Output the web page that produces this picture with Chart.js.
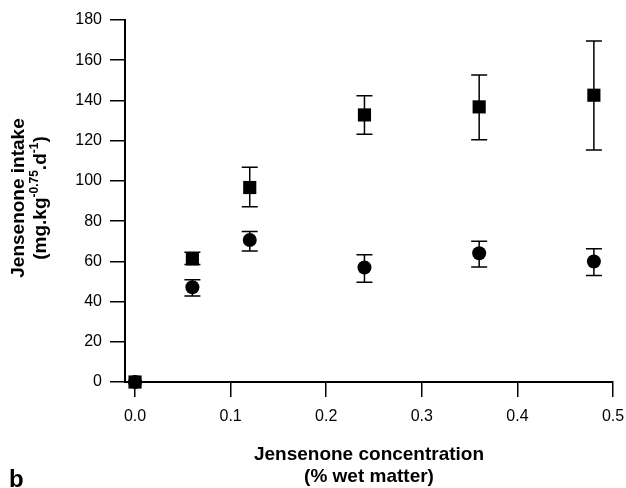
<!DOCTYPE html>
<html>
<head>
<meta charset="utf-8">
<script src="https://cdn.jsdelivr.net/npm/chart.js@4.4.1/dist/chart.umd.min.js"></script>
<style>
  body { margin: 0; background: #fff; }
  #wrap { width: 626px; height: 488px; position: relative; }
</style>
</head>
<body>
<div id="wrap"><canvas id="chart"></canvas></div>
<script>
  // concentration (% wet matter)
  const concentrations = [0, 0.06, 0.12, 0.24, 0.36, 0.48];
  const xTicks = [0, 0.1, 0.2, 0.3, 0.4, 0.5];

  // squares
  const squareMean = [0, 61.2, 96.7, 132.8, 136.8, 142.6];
  const squareLow = [null, 58.4, 87.2, 123.2, 120.4, 115.3];
  const squareHigh = [null, 64.5, 106.8, 142.3, 152.6, 169.6];

  // circles
  const circleMean = [0, 47.1, 70.6, 56.9, 64.0, 59.9];
  const circleLow = [null, 42.8, 65.2, 49.6, 57.2, 52.9];
  const circleHigh = [null, 50.8, 74.8, 63.3, 70.0, 66.3];

  const FONT = "'Liberation Sans', Arial, Helvetica, sans-serif";

  function toPoints(ys) {
    return concentrations.map((x, i) => ({ x: x, y: ys[i] }));
  }

  // vertical error bars with caps, drawn through the scales
  const errorBars = {
    id: 'errorBars',
    beforeDatasetsDraw(chart) {
      const ctx = chart.ctx;
      const xs = chart.scales.x, ys = chart.scales.y;
      const sets = [[squareLow, squareHigh], [circleLow, circleHigh]];
      ctx.save();
      ctx.strokeStyle = '#000';
      ctx.lineWidth = 1.5;
      sets.forEach(([lo, hi]) => {
        concentrations.forEach((c, i) => {
          if (lo[i] == null) return;
          const px = xs.getPixelForValue(c);
          const top = ys.getPixelForValue(hi[i]);
          const bot = ys.getPixelForValue(lo[i]);
          ctx.beginPath();
          ctx.moveTo(px, top); ctx.lineTo(px, bot);
          ctx.moveTo(px - 8, top); ctx.lineTo(px + 8, top);
          ctx.moveTo(px - 8, bot); ctx.lineTo(px + 8, bot);
          ctx.stroke();
        });
      });
      ctx.restore();
    }
  };

  // axis titles (y title needs superscripts) and panel letter
  const titles = {
    id: 'titles',
    afterDraw(chart) {
      const ctx = chart.ctx;
      ctx.save();
      ctx.fillStyle = '#000';

      // x title
      ctx.font = 'bold 19px ' + FONT;
      ctx.textAlign = 'center';
      ctx.textBaseline = 'middle';
      ctx.fillText('Jensenone concentration', 369, 455);
      ctx.fillText('(% wet matter)', 369, 477);

      // panel letter
      ctx.font = 'bold 24px ' + FONT;
      ctx.textAlign = 'left';
      ctx.textBaseline = 'alphabetic';
      ctx.fillText('b', 9, 487);

      // y title, rotated
      ctx.translate(0, 198);
      ctx.rotate(-Math.PI / 2);
      ctx.font = 'bold 19px ' + FONT;
      ctx.textAlign = 'center';
      ctx.fillText('Jensenone intake', 0, 24);

      const parts = [
        ['(mg.kg', false], ['-0.75', true], ['.d', false], ['-1', true], [')', false]
      ];
      const big = 'bold 19px ' + FONT, small = 'bold 12px ' + FONT;
      let total = 0;
      parts.forEach(([t, sup]) => { ctx.font = sup ? small : big; total += ctx.measureText(t).width; });
      let cx = -total / 2;
      ctx.textAlign = 'left';
      parts.forEach(([t, sup]) => {
        ctx.font = sup ? small : big;
        ctx.fillText(t, cx, sup ? 38 : 46);
        cx += ctx.measureText(t).width;
      });
      ctx.restore();
    }
  };

  new Chart(document.getElementById('chart'), {
    type: 'scatter',
    data: {
      datasets: [
        {
          label: 'circles',
          data: toPoints(circleMean),
          pointStyle: 'circle',
          pointRadius: 7,
          pointHoverRadius: 7,
          backgroundColor: '#000',
          borderColor: '#000',
          borderWidth: 0,
          clip: false
        },
        {
          label: 'squares',
          data: toPoints(squareMean),
          pointStyle: 'rect',
          pointRadius: 9.3,
          pointHoverRadius: 9.3,
          backgroundColor: '#000',
          borderColor: '#000',
          borderWidth: 0,
          clip: false
        }
      ]
    },
    options: {
      responsive: true,
      maintainAspectRatio: false,
      animation: false,
      layout: { padding: { top: 20, right: 13, left: 0, bottom: 0 } },
      plugins: {
        legend: { display: false },
        tooltip: { enabled: false }
      },
      scales: {
        x: {
          type: 'linear',
          min: -0.0105,
          max: 0.5,
          afterBuildTicks: (scale) => { scale.ticks = xTicks.map(v => ({ value: v })); },
          afterFit: (scale) => {
            scale.height = 106;
            scale.paddingLeft = 0;
            scale.paddingRight = 0;
          },
          border: { display: true, color: '#000', width: 2 },
          grid: { display: true, drawOnChartArea: false, drawTicks: true, tickLength: 15, color: '#000', lineWidth: 1.5 },
          ticks: {
            color: '#000',
            font: { family: FONT, size: 16 },
            padding: 10,
            maxRotation: 0,
            callback: (v) => v.toFixed(1)
          }
        },
        y: {
          type: 'linear',
          min: 0,
          max: 180,
          afterFit: (scale) => {
            scale.width = 125;
            scale.paddingTop = 0;
            scale.paddingBottom = 0;
          },
          border: { display: true, color: '#000', width: 2 },
          grid: { display: true, drawOnChartArea: false, drawTicks: true, tickLength: 15, color: '#000', lineWidth: 1.5 },
          ticks: {
            stepSize: 20,
            color: '#000',
            font: { family: FONT, size: 16 },
            padding: 8
          }
        }
      }
    },
    plugins: [errorBars, titles]
  });
</script>
</body>
</html>
